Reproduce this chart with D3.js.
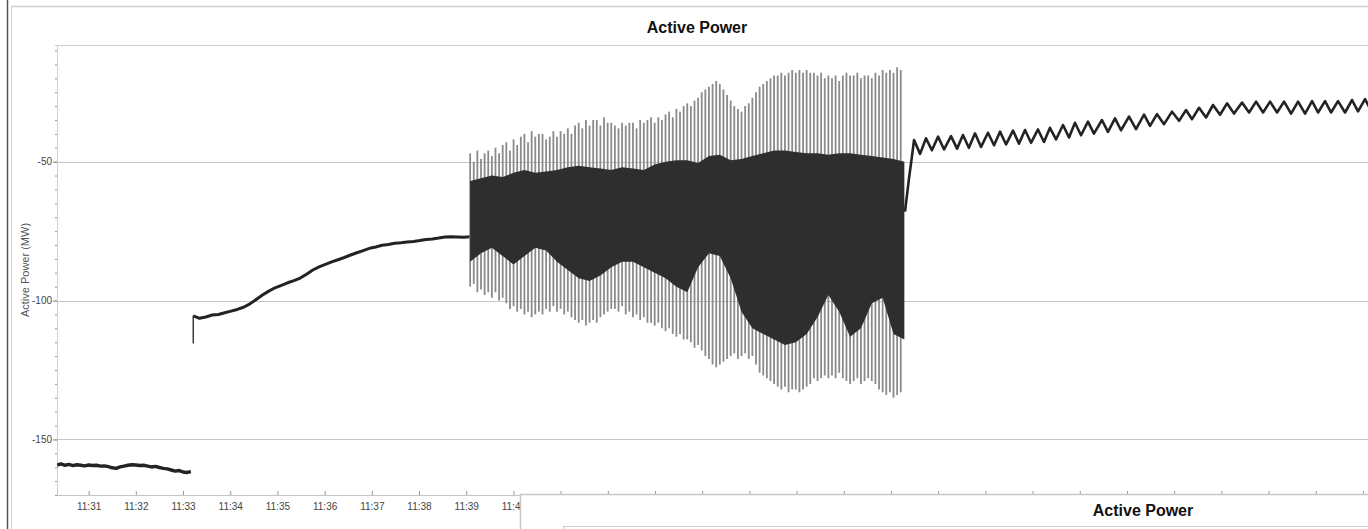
<!DOCTYPE html>
<html>
<head>
<meta charset="utf-8">
<script src="https://cdn.jsdelivr.net/npm/d3@7"></script>
<style>
  html, body { margin: 0; padding: 0; background: #fff; }
  svg { display: block; font-family: "Liberation Sans", Arial, sans-serif; }
</style>
</head>
<body>
<script>
// all times are seconds after 11:30:00

// before the trip: steady around -160 MW
const seg1Start = 20, seg1Step = 5;
const seg1MW = [-159.2,-158.8,-159.3,-159.0,-159.4,-159.1,-159.3,-159.5,-159.2,-159.4,
  -159.3,-159.6,-159.5,-159.8,-160.2,-160.4,-159.9,-159.6,-159.3,-159.1,
  -159.2,-159.4,-159.3,-159.6,-159.9,-159.7,-160.1,-160.4,-160.6,-161.0,
  -161.4,-161.2,-161.7,-161.9,-161.6];

// ramp up after the jump
const rampStart = 193, rampStep = 8;
const rampGlitchMW = -115.5;
const rampMW = [-105.5,-106.4,-105.9,-105.2,-105.0,-104.4,-103.8,-103.2,-102.4,-101.2,
  -99.6,-98.0,-96.6,-95.4,-94.5,-93.6,-92.8,-91.9,-90.5,-89.0,
  -87.9,-87.0,-86.1,-85.3,-84.5,-83.6,-82.8,-82.0,-81.2,-80.7,
  -80.1,-79.8,-79.4,-79.2,-78.9,-78.7,-78.4,-78.0,-77.8,-77.5,
  -77.1,-77.0,-77.1,-77.2,-77.0];

// oscillation: swing peaks (one per swing)
const oscStart = 545, oscStep = 4.6;
const oscHigh = [-47,-50,-46,-49,-47,-46,-48,-45,-47,-44,
  -43,-46,-42,-44,-41,-40,-43,-39,-41,-40,
  -40,-42,-41,-39,-41,-39,-40,-38,-40,-37,
  -36,-38,-35,-37,-35,-35,-37,-34,-36,-36,
  -37,-38,-36,-37,-36,-36,-38,-35,-36,-35,
  -34,-36,-34,-35,-33,-32,-34,-31,-32,-30,
  -29,-30,-28,-27,-25,-24,-23,-22,-21,-22,
  -24,-26,-28,-30,-31,-32,-30,-29,-27,-25,
  -23,-22,-21,-20,-19,-19,-18,-19,-18,-17,
  -18,-17,-18,-17,-18,-18,-19,-18,-20,-19,
  -20,-19,-21,-19,-18,-19,-19,-18,-20,-19,
  -19,-20,-18,-19,-17,-18,-17,-18,-16,-17];
const oscLow = [-95,-94,-97,-96,-98,-97,-99,-97,-100,-99,
  -101,-103,-102,-104,-103,-105,-104,-106,-105,-104,
  -105,-103,-104,-102,-104,-103,-105,-104,-106,-107,
  -108,-107,-109,-108,-107,-108,-106,-105,-104,-103,
  -103,-104,-102,-105,-104,-106,-105,-107,-106,-108,
  -108,-109,-108,-110,-111,-110,-112,-113,-112,-114,
  -114,-115,-117,-116,-118,-120,-121,-123,-124,-123,
  -122,-121,-120,-119,-121,-120,-119,-121,-120,-123,
  -126,-127,-128,-129,-130,-131,-132,-131,-133,-132,
  -132,-133,-132,-131,-130,-128,-129,-128,-127,-128,
  -127,-128,-126,-128,-129,-130,-129,-128,-130,-129,
  -128,-129,-130,-132,-133,-134,-133,-135,-134,-133];

// dense core of the oscillation
const bandStart = 545, bandStep = 13.8;
const bandHigh = [-57,-56,-55,-55.5,-54,-53,-54,-53.5,-53,-52,
  -51.5,-52,-52.5,-53,-52,-52.5,-53,-51,-50,-49.5,
  -49.5,-50.5,-48,-47.5,-49.5,-49,-48,-47,-46,-46,
  -46.5,-47,-47,-47.5,-47,-47,-47.5,-48,-48.5,-49,-50];
const bandLow = [-86,-83,-81,-84,-87,-84,-81,-82,-86,-89,
  -92,-93,-91,-88,-86,-86,-88,-90,-92,-95,
  -97,-88,-83,-84,-92,-104,-110,-112,-114,-116,
  -115,-112,-106,-98,-104,-113,-110,-101,-99,-112,-114];

// after the oscillation: small periodic ripple
const postSec = [1097.8,1102.9,1106.7,
  1109.3,1117,1124.5,1132,1139.8,1147.5,1156.3,1164,1171.5,1179,1186.8,1194.5,
  1203.3,1211,1218.6,1226.3,1235.1,1242.7,1250.4,1258,1266.9,1274.5,1282.1,1289.8,
  1298.7,1306.3,1313.9,1321.6,1330.4,1338,1348.2,1355.8,1364.8,1372.4,1382.6,1391.5,
  1401.7,1409.3,1418.2,1427.1,1437.3,1446.2,1455.1,1462.7,1471.6,1480.5,1489.4,1498.3,
  1507.2,1516.1,1526.3,1535.2,1544.1,1553,1561.9,1570.8,1579.7,1588.6,1597.5,1606.4,
  1615.3,1622.9,1631.8,1639.4,1648.3,1657.2,1666.1,1673.7,1682.6,1690.3];
const postMW = [-68,-56,-48,
  -42.2,-47.2,-41.6,-45.9,-41,-45.6,-40.8,-45.3,-40.4,-45,-39.8,-44.7,
  -39.6,-44.1,-39.2,-43.8,-38.8,-43.5,-38.6,-43.2,-38.4,-42.9,-37.8,-42,
  -36.8,-41.3,-36,-40.5,-35.6,-39.9,-35,-39.3,-34.4,-38.7,-33.8,-38.3,
  -33.1,-37.1,-32.9,-36.5,-32,-35.3,-31.4,-34.7,-30.6,-34.1,-29.6,-33.1,
  -29,-32.7,-28.7,-32.3,-28.4,-32.3,-28.4,-32.3,-28.4,-32.7,-28.4,-32.7,
  -28.2,-32.3,-28.2,-32.3,-28.2,-32.3,-27.8,-31.9,-27.5,-31.6];

const yTicks = [-50, -100, -150];
const yMinorStep = 5;
const viewStartSec = 19.8, viewEndSec = 1686.4;

const W = 1368, H = 529;
const plotLeft = 57, plotRight = 1368, plotTop = 45, plotBottom = 495;
const panelLeft = 520; // second chart panel overlapping the bottom right

const t0 = new Date(2000, 0, 1, 11, 30, 0);
const toDate = s => new Date(t0.getTime() + s * 1000);

const x = d3.scaleTime()
  .domain([toDate(viewStartSec), toDate(viewEndSec)])
  .range([plotLeft, plotRight]);
const y = d3.scaleLinear().domain([-170, -8]).range([plotBottom, plotTop]);

const svg = d3.select("body").append("svg")
  .attr("width", W).attr("height", H);

// outer frame bits
svg.append("line").attr("x1", 7.5).attr("x2", 7.5).attr("y1", 0).attr("y2", H)
  .attr("stroke", "#555").attr("stroke-width", 1.5);
svg.append("line").attr("x1", 11.5).attr("x2", 11.5).attr("y1", 6).attr("y2", H)
  .attr("stroke", "#cfcfcf");
svg.append("line").attr("x1", 11).attr("x2", W).attr("y1", 6.5).attr("y2", 6.5)
  .attr("stroke", "#cfcfcf").attr("stroke-width", 1.5);

svg.append("text").attr("x", 697).attr("y", 33)
  .attr("text-anchor", "middle").attr("font-size", 16).attr("font-weight", "bold")
  .attr("fill", "#111").text("Active Power");

// plot top border + grid
svg.append("line").attr("x1", plotLeft).attr("x2", plotRight)
  .attr("y1", plotTop + 0.5).attr("y2", plotTop + 0.5)
  .attr("stroke", "#cccccc");
svg.selectAll(".grid").data(yTicks).enter().append("line")
  .attr("class", "grid")
  .attr("x1", plotLeft).attr("x2", plotRight)
  .attr("y1", d => Math.round(y(d)) + 0.5).attr("y2", d => Math.round(y(d)) + 0.5)
  .attr("stroke", "#c4c4c4");

// y axis
const yMinor = svg.append("g").attr("transform", `translate(${plotLeft},0)`)
  .call(d3.axisLeft(y).tickValues(d3.range(-170, -7, yMinorStep)).tickSize(2).tickFormat(""));
yMinor.select(".domain").attr("stroke", "#d0d0d0");
yMinor.selectAll(".tick line").attr("stroke", "#999");

const yAxis = svg.append("g").attr("transform", `translate(${plotLeft},0)`)
  .call(d3.axisLeft(y).tickValues(yTicks).tickSize(4).tickPadding(1).tickFormat(d => String(d)));
yAxis.select(".domain").remove();
yAxis.selectAll(".tick line").attr("stroke", "#888");
yAxis.selectAll("text").attr("font-size", 10).attr("fill", "#444")
  .attr("font-family", "Liberation Sans, Arial, sans-serif");

svg.append("text")
  .attr("transform", "translate(29,270) rotate(-90)")
  .attr("text-anchor", "middle").attr("font-size", 11).attr("fill", "#555")
  .text("Active Power (MW)");

// x axis; labels past the overlapping panel are hidden behind it anyway
const fmt = d3.timeFormat("%H:%M");
const xAxis = svg.append("g").attr("transform", `translate(0,${plotBottom})`)
  .call(d3.axisBottom(x).ticks(d3.timeMinute.every(1))
    .tickFormat(d => x(d) < panelLeft ? fmt(d) : "").tickSize(-4).tickPadding(8));
xAxis.select(".domain").attr("stroke", "#c4c4c4");
xAxis.selectAll(".tick line").attr("stroke", "#999");
xAxis.selectAll("text").attr("font-size", 10).attr("fill", "#444")
  .attr("font-family", "Liberation Sans, Arial, sans-serif");

// data
svg.append("clipPath").attr("id", "plotClip").append("rect")
  .attr("x", plotLeft).attr("y", plotTop)
  .attr("width", plotRight - plotLeft).attr("height", plotBottom - plotTop);
const plot = svg.append("g").attr("clip-path", "url(#plotClip)");

const line = d3.line().x(d => x(d[0])).y(d => y(d[1]));

const seg1 = seg1MW.map((v, i) => [toDate(seg1Start + i * seg1Step), v]);
plot.append("path").datum(seg1).attr("d", line)
  .attr("fill", "none").attr("stroke", "#232323").attr("stroke-width", 3.4)
  .attr("stroke-linejoin", "round");

plot.append("line")
  .attr("x1", x(toDate(rampStart))).attr("x2", x(toDate(rampStart)))
  .attr("y1", y(rampMW[0])).attr("y2", y(rampGlitchMW))
  .attr("stroke", "#222").attr("stroke-width", 1.3);
const ramp = rampMW.map((v, i) => [toDate(rampStart + i * rampStep), v]);
plot.append("path").datum(ramp).attr("d", line)
  .attr("fill", "none").attr("stroke", "#232323").attr("stroke-width", 3)
  .attr("stroke-linejoin", "round");

// swings
plot.selectAll(".swing").data(oscHigh).enter().append("line")
  .attr("class", "swing")
  .attr("x1", (d, i) => x(toDate(oscStart + i * oscStep)))
  .attr("x2", (d, i) => x(toDate(oscStart + i * oscStep)))
  .attr("y1", d => y(d))
  .attr("y2", (d, i) => y(oscLow[i]))
  .attr("stroke", "#8a8a8a").attr("stroke-width", 1.8);

const band = bandHigh.map((v, i) => [toDate(bandStart + i * bandStep), v, bandLow[i]]);
plot.append("path").datum(band)
  .attr("d", d3.area().x(d => x(d[0])).y0(d => y(d[2])).y1(d => y(d[1])))
  .attr("fill", "#2e2e2e");

const post = postSec.map((s, i) => [toDate(s), postMW[i]]);
plot.append("path").datum(post).attr("d", line)
  .attr("fill", "none").attr("stroke", "#232323").attr("stroke-width", 2.6)
  .attr("stroke-linejoin", "round");

// second chart panel peeking in at the bottom right
svg.append("rect").attr("x", panelLeft + 0.5).attr("y", 494.5).attr("width", 900).attr("height", 60)
  .attr("fill", "#fff").attr("stroke", "#c8c8c8").attr("stroke-width", 1.5);
svg.append("text").attr("x", 1143).attr("y", 516)
  .attr("text-anchor", "middle").attr("font-size", 16).attr("font-weight", "bold")
  .attr("fill", "#111").text("Active Power");
svg.append("rect").attr("x", 563.5).attr("y", 526.5).attr("width", 900).attr("height", 20)
  .attr("fill", "none").attr("stroke", "#d0d0d0");
</script>
</body>
</html>
